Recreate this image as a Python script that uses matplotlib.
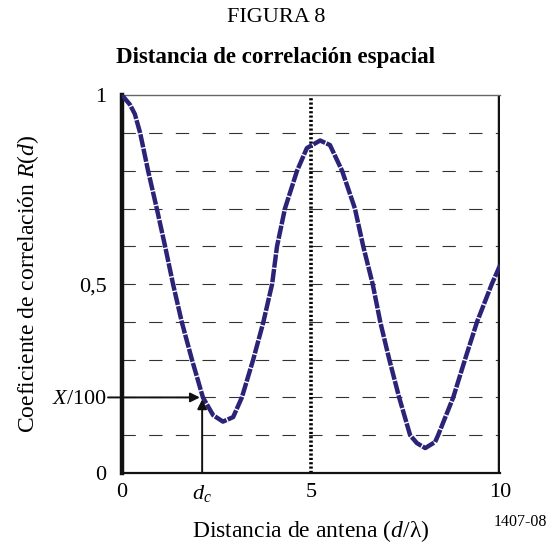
import numpy as np
import matplotlib
matplotlib.use("Agg")
import matplotlib.pyplot as plt

plt.rcParams['font.family'] = ['Liberation Serif', 'DejaVu Serif']
plt.rcParams['mathtext.fontset'] = 'custom'
plt.rcParams['mathtext.rm'] = 'Liberation Serif'
plt.rcParams['mathtext.it'] = 'Liberation Serif:italic'

# antenna spacing d/lambda and correlation coefficient R(d)
dist = [0.0, 0.21, 0.34, 0.48, 0.69, 0.92, 1.14, 1.35, 1.58, 1.85, 2.14, 2.41,
        2.67, 2.94, 3.17, 3.47, 3.74, 3.97, 4.1, 4.31, 4.63, 4.89, 5.24, 5.5,
        5.82, 6.16, 6.38, 6.63, 6.83, 7.07, 7.33, 7.62, 7.8, 8.02, 8.28, 8.36,
        8.76, 9.07, 9.39, 9.78, 10.0]
corr = [1.0, 0.975, 0.95, 0.9, 0.8, 0.7, 0.6, 0.5, 0.4, 0.3, 0.2, 0.153,
        0.136, 0.148, 0.2, 0.3, 0.4, 0.5, 0.6, 0.7, 0.8, 0.86, 0.88, 0.868,
        0.8, 0.7, 0.6, 0.5, 0.4, 0.3, 0.2, 0.1, 0.079, 0.066, 0.082, 0.1,
        0.2, 0.3, 0.4, 0.5, 0.55]

x_thr = 0.2      # X/100
d_c = 2.12

xticks = [0, d_c, 5, 10]
xticklabels = ['0', r'$d_c$', '5', '10']
yticks = [0, x_thr, 0.5, 1]
yticklabels = ['0', r'$X$/100', '0,5', '1']
grid_levels = [0.1, 0.2, 0.3, 0.4, 0.5, 0.6, 0.7, 0.8, 0.9]

fig = plt.figure(figsize=(5.52, 5.46), dpi=100)
ax = fig.add_axes([0.221, 0.1337, 0.685, 0.692])
ax.set_xlim(0, 10)
ax.set_ylim(0, 1)

for g in grid_levels:
    ax.axhline(g, color='#333333', lw=0.8, ls=(0, (12, 12)), zorder=1)

ax.axvline(5, color='black', lw=2.6, ls=(0, (0.6, 0.6)), zorder=2)
ax.axvline(10, color='#111111', lw=3.2, zorder=2)

ax.plot(dist, corr, color='#2b2377', lw=3.2, ls=(0, (3.0, 0.3)),
        solid_capstyle='butt', zorder=4)

# X/100 -> d_c construction
ax.annotate('', xy=(2.06, x_thr), xytext=(-0.37, x_thr),
            arrowprops=dict(arrowstyle='-|>', lw=1.4, color='#111111',
                            mutation_scale=14, shrinkA=0, shrinkB=0),
            annotation_clip=False, zorder=5)
ax.annotate('', xy=(d_c, x_thr - 0.005), xytext=(d_c, 0),
            arrowprops=dict(arrowstyle='-|>', lw=1.4, color='#111111',
                            mutation_scale=14, shrinkA=0, shrinkB=0),
            annotation_clip=False, zorder=5)

for side in ['left', 'bottom', 'top', 'right']:
    ax.spines[side].set_zorder(3)
ax.spines['left'].set_linewidth(3.2)
ax.spines['left'].set_color('#111111')
ax.spines['bottom'].set_linewidth(1.6)
ax.spines['bottom'].set_color('#111111')
ax.spines['top'].set_linewidth(1.0)
ax.spines['top'].set_color('#666666')
ax.spines['right'].set_visible(False)

ax.set_xticks(xticks)
ax.set_xticklabels(xticklabels, fontsize=16)
ax.set_yticks(yticks)
ax.set_yticklabels(yticklabels, fontsize=16)
ax.tick_params(axis='both', length=0)
ax.tick_params(axis='x', pad=7)
ax.tick_params(axis='y', pad=11)

ax.set_xlabel(r'Distancia de antena ($d$/λ)', fontsize=17, labelpad=10)
ax.set_ylabel(r'Coeficiente de correlación $R$($d$)', fontsize=17, labelpad=8)

fig.text(0.5, 0.968, 'FIGURA 8', ha='center', va='center', fontsize=16)
fig.text(0.5, 0.895, 'Distancia de correlación espacial', ha='center',
         va='center', fontsize=16.5, fontweight='bold')
fig.text(0.943, 0.044, '1407-08', ha='center', va='center', fontsize=11.5)

fig.savefig('out.png', dpi=100)
